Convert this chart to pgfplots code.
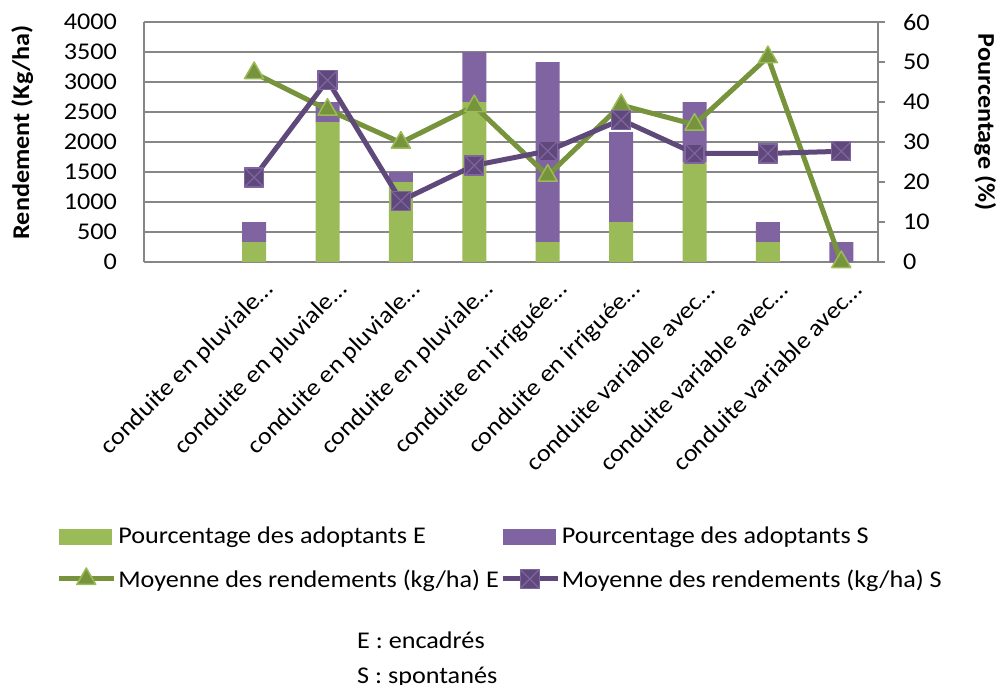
\documentclass[border=0pt]{standalone}
\usepackage{pgfplots}
\pgfplotsset{compat=1.18}
\usepackage{fontspec}
\setmainfont{Carlito}[FakeStretch=1.09]
\definecolor{barE}{HTML}{9BBB59}
\definecolor{barS}{HTML}{8064A2}
\definecolor{lineE}{HTML}{77933C}
\definecolor{lineS}{HTML}{5F497A}
\definecolor{axgray}{HTML}{868686}
\pgfdeclareplotmark{sqx}{%
  \pgfpathrectangle{\pgfpoint{-\pgfplotmarksize}{-\pgfplotmarksize}}{\pgfpoint{2\pgfplotmarksize}{2\pgfplotmarksize}}%
  \pgfusepathqfillstroke
  \pgfpathmoveto{\pgfpoint{-\pgfplotmarksize}{-\pgfplotmarksize}}%
  \pgfpathlineto{\pgfpoint{\pgfplotmarksize}{\pgfplotmarksize}}%
  \pgfpathmoveto{\pgfpoint{-\pgfplotmarksize}{\pgfplotmarksize}}%
  \pgfpathlineto{\pgfpoint{\pgfplotmarksize}{-\pgfplotmarksize}}%
  \pgfusepathqstroke
}
\begin{document}
\begin{tikzpicture}[font=\fontsize{24bp}{29bp}\selectfont]
\pgfplotsset{
  base/.style={
    scale only axis, width=734bp, height=240bp,
    xmin=-0.5, xmax=9.5, at={(0,0)}, anchor=south west,
    /pgf/number format/assume math mode=true,
    /pgf/number format/1000 sep={},
    axis line style={axgray, line width=1.2bp},
    tick style={axgray, line width=1.2bp},
    tick label style={font=\fontsize{24bp}{29bp}\selectfont},
  }
}
% Axis A: bars (percent, right axis) + grid
\begin{axis}[base,
  ymin=0, ymax=60,
  axis y line*=right, axis x line*=bottom,
  ybar stacked, bar width=24bp,
  xtick={0,...,9},
  xticklabels={{},conduite en pluviale…,conduite en pluviale…,conduite en pluviale…,conduite en pluviale…,conduite en irriguée…,conduite en irriguée…,conduite variable avec…,conduite variable avec…,conduite variable avec…},
  x tick style={draw=none},
  xticklabel style={xshift=16bp, yshift=-17bp, rotate=45, anchor=east, inner sep=0pt},
  ytick={0,10,...,60},
  tick align=outside, major tick length=7bp,
  yticklabel style={anchor=west, inner sep=0pt, xshift=18bp},
  extra y ticks={7.5,15,22.5,30,37.5,45,52.5,60},
  extra y tick labels={},
  extra y tick style={major tick length=0pt, ymajorgrids=true, major grid style={axgray, line width=1.2bp}},
  every axis y label/.style={at={(axis description cs:1.146,0.583)}, anchor=center, rotate=-90},
  ylabel={\bfseries Pourcentage (\%)},
]
\addplot[fill=barE, draw=none] coordinates {(1,5) (2,35) (3,20) (4,40) (5,5) (6,10) (7,25) (8,5) (9,0)};
\addplot[fill=barS, draw=none] coordinates {(1,5) (2,5) (3,2.5) (4,12.5) (5,45) (6,22.5) (7,15) (8,5) (9,5)};
\end{axis}
% Axis B: lines (yield, left axis) + legend
\begin{axis}[base,
  ymin=0, ymax=4000, ytick={0,500,...,4000},
  axis y line*=left, axis x line=none,
  major tick length=0pt, clip=false,
  yticklabel style={anchor=east, inner sep=0pt, xshift=-27bp},
  every axis y label/.style={at={(axis description cs:-0.166,0.54)}, anchor=center, rotate=90},
  ylabel={\bfseries Rendement (Kg/ha)},
  legend columns=2,
  legend cell align=left,
  legend style={at={(axis description cs:0.485,-1.09)}, anchor=north, draw=none, fill=none,
    nodes={inner sep=1.5bp}, row sep=21bp, column sep=0bp,
    font=\fontsize{24bp}{29bp}\selectfont},
  legend image code/.code={\draw[mark repeat=2,mark phase=2,#1] plot coordinates {(0bp,0bp) (27bp,0bp) (55bp,0bp)};},
]
\addlegendimage{legend image code/.code={\fill[barE] (0bp,-7.5bp) rectangle (52bp,7.5bp);}}
\addlegendentry{Pourcentage des adoptants E}
\addlegendimage{legend image code/.code={\fill[barS] (0bp,-7.5bp) rectangle (52bp,7.5bp);}}
\addlegendentry{Pourcentage des adoptants S}
\addplot[lineE, line width=5bp, line join=round, mark=triangle*, mark size=11bp,
  mark options={fill=lineE, draw=barE, line width=1.5bp}]
  coordinates {(1,3150) (2,2540) (3,1990) (4,2600) (5,1440) (6,2615) (7,2290) (8,3415) (9,0)};
\addlegendentry{Moyenne des rendements (kg/ha) E}
\addplot[lineS, line width=5bp, line join=round, mark=sqx, mark size=9.5bp,
  mark options={fill=lineS, draw=barS, line width=1.2bp}]
  coordinates {(1,1410) (2,3030) (3,1020) (4,1610) (5,1850) (6,2370) (7,1810) (8,1810) (9,1845)};
\addlegendentry{Moyenne des rendements (kg/ha) S}
\end{axis}
\node[anchor=base west, inner sep=0pt] at (213bp,-386bp) {E : encadrés};
\node[anchor=base west, inner sep=0pt] at (213bp,-421bp) {S : spontanés};
\pgfresetboundingbox
\path[use as bounding box] (-144bp,-423bp) rectangle (852bp,262bp);
\end{tikzpicture}
\end{document}
